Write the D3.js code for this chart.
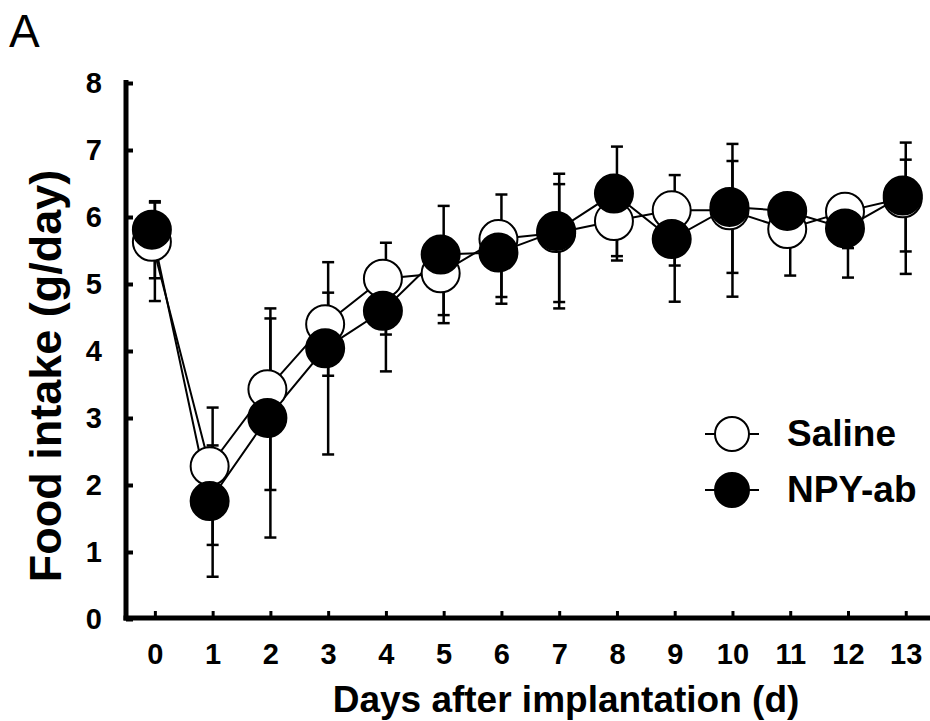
<!DOCTYPE html>
<html>
<head>
<meta charset="utf-8">
<script src="https://cdn.jsdelivr.net/npm/d3@7"></script>
<style>
  body { margin: 0; background: #fff; }
  text { font-family: "Liberation Sans", Arial, sans-serif; }
</style>
</head>
<body>
<script>
// days after implantation
const days = [0, 1, 2, 3, 4, 5, 6, 7, 8, 9, 10, 11, 12, 13];
// food intake (g/day), means
const saline = [5.63, 2.28, 3.43, 4.40, 5.08, 5.16, 5.67, 5.76, 5.94, 6.10, 6.10, 5.82, 6.08, 6.28];
const npyab  = [5.81, 1.76, 3.00, 4.04, 4.60, 5.44, 5.47, 5.79, 6.35, 5.67, 6.15, 6.09, 5.83, 6.32];
// error bar half widths
const salineErr = [0.735, 1.025, 1.355, 0.62, 0.685, 0.475, 0.815, 0.88, 0.375, 0.675, 1.14, 0.545, 0.395, 0.98];
const npyabErr  = [0.575, 0.98, 1.635, 1.435, 0.755, 0.875, 0.515, 1.005, 0.85, 0.785, 0.835, 0.35, 0.585, 0.685];
const yTicks = [0, 1, 2, 3, 4, 5, 6, 7, 8];
const seriesNames = ["Saline", "NPY-ab"];

const width = 930, height = 721;

var x = d3.scaleLinear().domain([-0.5, 13.42]).range([126, 930]);
var y = d3.scaleLinear().domain([0, 8]).range([619, 83]);

var svg = d3.select("body").append("svg")
    .attr("width", width)
    .attr("height", height);

// panel letter
svg.append("text")
    .attr("x", 9)
    .attr("y", 47)
    .style("font-size", "46px")
    .text("A");

// axes
var yAxis = svg.append("g")
    .attr("transform", "translate(126,0)")
    .call(d3.axisLeft(y).tickValues(yTicks).tickSizeInner(-7).tickSizeOuter(0).tickPadding(24));
yAxis.select(".domain").remove();
yAxis.selectAll("line").attr("stroke", "#000").attr("stroke-width", 4);
yAxis.selectAll("text")
    .style("font-size", "29px").style("font-weight", "bold")
    .attr("fill", "#000");

var xAxis = svg.append("g")
    .attr("transform", "translate(0,618)")
    .call(d3.axisBottom(x).tickValues(days).tickSizeInner(-7).tickSizeOuter(0).tickPadding(25));
xAxis.select(".domain").remove();
xAxis.selectAll("line").attr("stroke", "#000").attr("stroke-width", 3);
xAxis.selectAll("text")
    .style("font-size", "29px").style("font-weight", "bold")
    .attr("fill", "#000");

svg.append("line")
    .attr("x1", 126).attr("x2", 126)
    .attr("y1", y(8) - 3).attr("y2", 620.5)
    .attr("stroke", "#000").attr("stroke-width", 5);
svg.append("line")
    .attr("x1", 123.5).attr("x2", 930)
    .attr("y1", 618).attr("y2", 618)
    .attr("stroke", "#000").attr("stroke-width", 5);

// axis titles
svg.append("text")
    .attr("x", 566)
    .attr("y", 712)
    .attr("text-anchor", "middle")
    .style("font-size", "37px").style("font-weight", "bold")
    .text("Days after implantation (d)");

svg.append("text")
    .attr("transform", "translate(61,376) rotate(-90)")
    .attr("text-anchor", "middle")
    .style("font-size", "45px").style("font-weight", "bold")
    .text("Food intake (g/day)");

var groups = [
  { name: seriesNames[0], vals: saline, err: salineErr, fill: "#fff" },
  { name: seriesNames[1], vals: npyab, err: npyabErr, fill: "#000" }
];

// error bars (sit slightly lower than the markers in the original)
var eb = svg.append("g").attr("transform", "translate(0,10)");
groups.forEach(function (g) {
  days.forEach(function (d, i) {
    var hi = y(g.vals[i] + g.err[i]), lo = y(g.vals[i] - g.err[i]);
    eb.append("line")
        .attr("x1", x(d)).attr("x2", x(d)).attr("y1", hi).attr("y2", lo)
        .attr("stroke", "#000").attr("stroke-width", 2.5);
    [hi, lo].forEach(function (yy) {
      eb.append("line")
          .attr("x1", x(d) - 6).attr("x2", x(d) + 6).attr("y1", yy).attr("y2", yy)
          .attr("stroke", "#000").attr("stroke-width", 2.5);
    });
  });
});

// lines and markers
var mk = svg.append("g").attr("transform", "translate(-3,0)");
var line = d3.line()
    .x(function (d, i) { return x(days[i]); })
    .y(function (d) { return y(d); });

groups.forEach(function (g) {
  mk.append("path")
      .datum(g.vals)
      .attr("d", line)
      .attr("fill", "none")
      .attr("stroke", "#000")
      .attr("stroke-width", 2);
});
groups.forEach(function (g) {
  mk.selectAll(".dot-" + g.fill.slice(1))
      .data(g.vals)
      .enter().append("circle")
      .attr("r", 19)
      .attr("cx", function (d, i) { return x(days[i]); })
      .attr("cy", function (d) { return y(d); })
      .attr("fill", g.fill)
      .attr("stroke", "#000")
      .attr("stroke-width", 2);
});

// legend
var legend = svg.append("g").attr("transform", "translate(732,434)");
groups.forEach(function (g, i) {
  var row = legend.append("g").attr("transform", "translate(0," + (i * 56) + ")");
  row.append("line")
      .attr("x1", -27).attr("x2", 27).attr("y1", 0).attr("y2", 0)
      .attr("stroke", "#000").attr("stroke-width", 2);
  row.append("circle")
      .attr("r", 17)
      .attr("fill", g.fill)
      .attr("stroke", "#000")
      .attr("stroke-width", 2);
  row.append("text")
      .attr("x", 55)
      .attr("y", 12)
      .style("font-size", "37px").style("font-weight", "bold")
      .text(g.name);
});
</script>
</body>
</html>
